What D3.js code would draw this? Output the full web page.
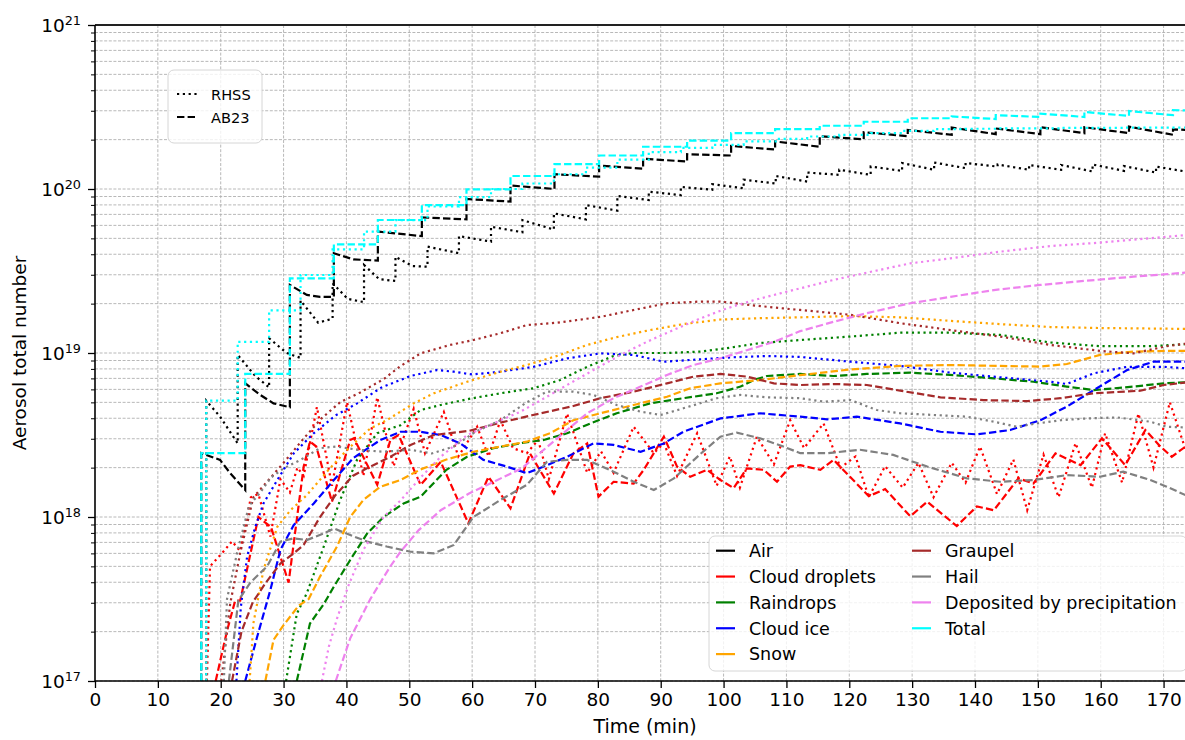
<!DOCTYPE html>
<html>
<head>
<meta charset="utf-8">
<script src="https://cdn.jsdelivr.net/npm/d3@7"></script>
<style>
  body { margin: 0; background: #fff; }
  svg text { font-family: "DejaVu Sans", sans-serif; fill: #000; }
</style>
</head>
<body>
<svg id="chart" width="1185" height="740"></svg>
<script>
// ---- data: [time (min), aerosol number] ----
var speciesNames = ['Air', 'Cloud droplets', 'Raindrops', 'Cloud ice', 'Snow',
                    'Graupel', 'Hail', 'Deposited by precipitation', 'Total'];
var speciesColors = ['#000000', '#ff0000', '#008000', '#0000ff', '#ffa500',
                     '#a52a2a', '#808080', '#ee82ee', '#00ffff'];
var schemeNames = ['RHSS', 'AB23'];

var airRHSS = [[17.7,1e17],[17.7,5.12e18],[19.9,4.09e18],[22.7,2.81e18],[22.7,9.73e18],[25.5,7.24e18],[27.7,6.17e18],
  [27.7,1.23e19],[30.5,1.0e19],[32.7,9.33e18],[32.7,2.09e19],[35.5,1.53e19],[37.8,1.62e19],[37.8,2.66e19],[40.2,2.14e19],
  [42.8,2.04e19],[42.8,3.44e19],[45.2,2.82e19],[47.8,2.75e19],[47.8,3.86e19],[50.5,3.39e19],[52.9,3.36e19],[52.9,4.45e19],
  [57.9,4.06e19],[57.9,5.16e19],[63.0,4.78e19],[63.0,5.89e19],[68.0,5.45e19],[68.0,6.46e19],[73.0,5.66e19],[73.0,7.10e19],
  [78.1,6.53e19],[78.1,7.98e19],[83.1,7.38e19],[83.1,9.08e19],[88.1,8.57e19],[88.1,9.64e19],[93.2,9.18e19],[93.2,1.03e20],
  [98.2,9.89e19],[98.2,1.07e20],[103.2,1.01e20],[103.2,1.14e20],[108.3,1.08e20],[108.3,1.20e20],[113.3,1.11e20],[113.3,1.26e20],
  [118.4,1.22e20],[118.4,1.31e20],[123.4,1.22e20],[123.4,1.37e20],[128.4,1.29e20],[128.4,1.44e20],[133.5,1.31e20],[133.5,1.45e20],
  [138.5,1.34e20],[138.5,1.44e20],[143.6,1.37e20],[143.6,1.41e20],[148.6,1.31e20],[148.6,1.40e20],[153.7,1.31e20],[153.7,1.40e20],
  [158.7,1.28e20],[158.7,1.41e20],[163.7,1.29e20],[163.7,1.38e20],[168.8,1.26e20],[168.8,1.37e20],[175,1.25e20]];
var airAB23 = [[16.9,1e17],[16.9,2.45e18],[19.9,2.23e18],[21.5,1.85e18],[23.9,1.46e18],[23.9,6.53e18],[26.3,5.55e18],[28.4,4.93e18],
  [31.0,4.67e18],[31.0,2.60e19],[33.7,2.26e19],[35.8,2.20e19],[38.0,2.20e19],[38.0,4.06e19],[41.1,3.72e19],[45.0,3.66e19],
  [45.0,5.50e19],[52.0,5.16e19],[52.0,6.71e19],[59.1,6.53e19],[59.1,8.69e19],[66.1,8.38e19],[66.1,1.05e20],[73.1,1.00e20],
  [73.1,1.23e20],[80.2,1.19e20],[80.2,1.39e20],[87.2,1.33e20],[87.2,1.53e20],[94.2,1.47e20],[94.2,1.63e20],[101.2,1.60e20],
  [101.2,1.83e20],[108.2,1.74e20],[108.2,1.95e20],[115.3,1.81e20],[115.3,2.10e20],[122.3,2.01e20],[122.3,2.22e20],[129.3,2.10e20],
  [129.3,2.29e20],[136.3,2.14e20],[136.3,2.37e20],[143.3,2.16e20],[143.3,2.34e20],[150.4,2.16e20],[150.4,2.38e20],[157.4,2.19e20],
  [157.4,2.38e20],[164.5,2.19e20],[164.5,2.40e20],[171.5,2.14e20],[171.5,2.31e20],[175,2.28e20]];

var dropsRHSS = [[17.8,1e17],[18.3,5.0e17],[20.5,6.2e17],[21.8,7.1e17],[23.1,6.2e17],[24.8,1.32e18],[26.0,1.38e18],[27.9,7.6e17],
  [29.5,1.70e18],[31.0,1.41e18],[32.2,2.0e18],[33.2,1.78e18],[35.3,4.68e18],[37.7,1.55e18],[40.1,5.01e18],[42.7,1.78e18],
  [44.9,5.37e18],[47.5,2.04e18],[50.7,4.57e18],[52.5,2.45e18],[55.5,4.37e18],[57.8,2.34e18],[60.8,3.55e18],[62.6,2.34e18],
  [64.5,3.89e18],[66.5,2.63e18],[68.7,2.45e18],[70.5,2.95e18],[72.2,1.70e18],[75.1,4.27e18],[78.3,1.86e18],[80.5,2.51e18],
  [82.5,1.86e18],[85.7,3.55e18],[88.9,2.45e18],[90.5,2.82e18],[92.6,1.78e18],[95.8,3.24e18],[98.9,1.55e18],[101.0,2.34e18],
  [102.6,1.51e18],[105.3,3.09e18],[108.0,2.09e18],[110.6,3.89e18],[112.8,2.63e18],[115.9,3.72e18],[118.6,2.0e18],[121.0,2.34e18],
  [123.1,1.32e18],[125.7,2.04e18],[128.5,1.51e18],[131.0,2.14e18],[133.4,1.32e18],[136.3,2.14e18],[138.5,1.62e18],[140.8,2.69e18],
  [143.5,1.38e18],[146.1,2.24e18],[148.3,1.10e18],[150.9,2.40e18],[153.3,1.32e18],[156.0,2.82e18],[158.6,1.51e18],[160.7,3.24e18],
  [163.4,1.62e18],[166.0,4.27e18],[168.4,2.0e18],[171.0,5.01e18],[173.5,2.57e18],[175,2.0e18]];
var dropsAB23 = [[19.2,1e17],[21.0,2.02e17],[22.3,3.09e17],[23.1,3.09e17],[26.0,1.0e18],[27.0,9.3e17],[28.0,8.7e17],[30.8,3.98e17],
  [33.2,2.03e18],[34.2,2.88e18],[35.2,2.69e18],[37.7,1.24e18],[40.6,2.95e18],[41.2,3.02e18],[44.9,1.57e18],[47.0,2.95e18],
  [48.3,3.16e18],[51.8,1.57e18],[55.0,2.17e18],[59.4,9.16e17],[62.6,1.76e18],[66.1,1.13e18],[69.2,2.44e18],[73.0,1.39e18],
  [76.1,2.44e18],[78.3,2.81e18],[80.1,1.33e18],[82.5,1.64e18],[85.7,1.60e18],[87.3,1.94e18],[90.5,3.09e18],[92.6,2.03e18],
  [94.7,1.76e18],[97.4,1.94e18],[99.5,1.68e18],[101.6,1.50e18],[103.7,1.98e18],[106.4,1.94e18],[108.5,1.64e18],[110.6,2.03e18],
  [112.2,2.07e18],[115.4,1.94e18],[117.5,2.23e18],[123.1,1.34e18],[125.7,1.48e18],[129.7,1.01e18],[132.4,1.24e18],[137.1,8.81e17],
  [140.3,1.16e18],[143.0,1.10e18],[146.9,1.72e18],[149.3,1.60e18],[152.8,2.44e18],[156.8,2.07e18],[160.2,3.02e18],[163.9,2.07e18],
  [167.1,3.39e18],[169.5,2.69e18],[171.3,2.33e18],[173.5,2.69e18],[175,2.9e18]];

var rainRHSS = [[30.4,1e17],[32.1,2.57e17],[33.7,3.43e17],[36.4,6.61e17],[39.0,1.27e18],[41.7,2.24e18],[44.9,3.24e18],[48.6,3.63e18],
  [51.8,4.49e18],[55.0,4.82e18],[59.5,5.25e18],[64.5,5.68e18],[69.8,6.10e18],[74.0,6.84e18],[78.3,8.24e18],[82.5,9.59e18],
  [85.7,1.0e19],[91.0,1.0e19],[96.4,1.02e19],[100.5,1.07e19],[105.8,1.15e19],[112.2,1.20e19],[120.2,1.26e19],[128.1,1.33e19],
  [136.1,1.33e19],[144.0,1.29e19],[151.9,1.16e19],[159.9,1.10e19],[167.9,1.10e19],[175,1.14e19]];
var rainAB23 = [[32.1,1e17],[34.2,2.24e17],[36.4,2.95e17],[38.0,3.76e17],[40.6,5.47e17],[43.3,7.94e17],[45.9,1.0e18],[49.1,1.21e18],
  [51.8,1.33e18],[55.9,1.94e18],[59.2,2.33e18],[63.4,2.63e18],[68.2,2.84e18],[71.4,2.95e18],[75.1,3.24e18],[78.8,3.72e18],
  [83.0,4.29e18],[88.3,4.93e18],[93.6,5.30e18],[98.9,5.68e18],[102.7,6.24e18],[104.8,6.84e18],[106.9,7.24e18],[112.2,7.45e18],
  [117.5,7.24e18],[122.8,7.45e18],[129.7,7.59e18],[136.0,7.35e18],[143.0,7.01e18],[149.3,6.68e18],[154.6,6.24e18],[158.9,5.94e18],
  [165.2,6.24e18],[170.0,6.53e18],[175,6.68e18]];

var iceRHSS = [[22.5,1e17],[23.2,2.82e17],[24.2,5.73e17],[25.5,8.71e17],[26.8,1.21e18],[29.0,1.68e18],[31.6,2.44e18],[34.8,3.24e18],
  [38.3,4.17e18],[41.7,4.93e18],[45.6,6.17e18],[50.2,7.24e18],[54.4,7.87e18],[57.1,7.69e18],[60.0,7.40e18],[64.5,7.69e18],
  [69.8,8.24e18],[75.1,9.27e18],[80.4,9.95e18],[85.7,9.73e18],[90.5,8.85e18],[96.4,9.16e18],[101.6,9.42e18],[106.9,9.59e18],
  [112.2,9.46e18],[120.2,8.85e18],[128.1,8.34e18],[136.1,7.59e18],[144.0,7.11e18],[152.0,6.68e18],[154.6,6.47e18],[158.9,7.52e18],
  [164.2,8.24e18],[170.0,8.24e18],[175,8.0e18]];
var iceAB23 = [[23.9,1e17],[25.8,1.86e17],[27.9,3.59e17],[29.5,6.31e17],[31.6,8.91e17],[34.8,1.21e18],[38.0,1.68e18],[41.1,2.29e18],
  [45.4,2.95e18],[48.6,3.31e18],[51.8,3.31e18],[55.0,3.16e18],[58.1,2.81e18],[61.8,2.23e18],[65.5,2.03e18],[68.7,1.85e18],
  [71.4,2.03e18],[75.1,2.33e18],[79.3,2.81e18],[82.5,2.75e18],[86.8,2.50e18],[90.5,2.81e18],[93.6,3.31e18],[99.5,3.99e18],
  [105.8,4.29e18],[112.2,4.09e18],[116.5,3.94e18],[121.2,4.09e18],[128.1,3.72e18],[134.5,3.31e18],[140.3,3.19e18],[145.6,3.39e18],
  [150.4,3.89e18],[154.6,4.71e18],[158.9,5.94e18],[164.2,7.87e18],[168.4,8.85e18],[175,8.85e18]];

var snowRHSS = [[24.6,1e17],[25.2,2.25e17],[26.8,4.75e17],[29.0,8.71e17],[31.1,1.10e18],[33.7,1.36e18],[36.9,1.89e18],[40.1,2.57e18],
  [43.8,3.47e18],[46.4,3.89e18],[48.6,4.39e18],[50.7,4.93e18],[53.9,5.68e18],[59.2,6.68e18],[64.5,7.69e18],[68.7,8.45e18],
  [74.0,9.73e18],[78.3,1.12e19],[83.0,1.25e19],[88.3,1.38e19],[93.6,1.50e19],[99.5,1.60e19],[105.8,1.63e19],[112.2,1.65e19],
  [120.2,1.68e19],[128.1,1.65e19],[136.1,1.57e19],[144.0,1.50e19],[152.0,1.44e19],[159.9,1.42e19],[167.9,1.41e19],[175,1.40e19]];
var snowAB23 = [[27.1,1e17],[28.4,1.78e17],[30.0,2.19e17],[32.4,2.88e17],[34.0,3.16e17],[35.8,4.33e17],[38.5,6.61e17],[40.6,1.0e18],
  [42.7,1.27e18],[45.4,1.53e18],[48.6,1.68e18],[51.8,1.95e18],[55.9,2.24e18],[60.2,2.50e18],[64.5,2.69e18],[68.7,2.88e18],
  [72.4,3.24e18],[76.1,3.89e18],[80.4,4.29e18],[85.7,4.82e18],[91.0,5.41e18],[94.7,6.10e18],[99.5,6.53e18],[105.8,6.84e18],
  [112.2,7.33e18],[120.2,7.94e18],[128.1,8.34e18],[136.1,8.45e18],[144.0,8.34e18],[150.4,8.26e18],[154.6,8.57e18],[159.9,9.73e18],
  [165.2,1.02e19],[170.5,1.03e19],[175,1.03e19]];

var graupelRHSS = [[20.1,1e17],[21.0,2.0e17],[21.5,2.95e17],[23.1,6.03e17],[25.2,1.32e18],[27.5,1.66e18],[30.0,2.14e18],[33.0,2.95e18],
  [36.0,3.98e18],[39.0,5.01e18],[42.2,5.75e18],[45.9,6.92e18],[48.6,8.32e18],[51.8,9.95e18],[56.5,1.12e19],[60.2,1.20e19],
  [64.5,1.32e19],[68.7,1.48e19],[73.5,1.53e19],[80.4,1.66e19],[85.7,1.83e19],[91.0,2.01e19],[96.4,2.06e19],[99.5,2.06e19],
  [104.2,1.96e19],[109.5,1.87e19],[112.2,1.83e19],[120.2,1.71e19],[128.1,1.52e19],[136.1,1.38e19],[144.0,1.26e19],[152.0,1.12e19],
  [159.9,1.03e19],[165.2,9.95e18],[170.5,1.10e19],[175,1.16e19]];
var graupelAB23 = [[21.8,1e17],[23.3,2.0e17],[25.1,3.02e17],[27.1,3.94e17],[29.5,5.21e17],[31.6,6.0e17],[33.2,6.76e17],[35.8,1.0e18],
  [38.2,1.35e18],[41.0,1.78e18],[43.8,2.03e18],[47.0,2.33e18],[50.2,2.75e18],[53.9,3.16e18],[59.5,3.35e18],[64.5,3.76e18],
  [69.5,4.17e18],[76.1,4.75e18],[80.4,5.30e18],[85.7,5.81e18],[91.0,6.53e18],[95.2,7.18e18],[99.5,7.45e18],[103.7,7.18e18],
  [108.0,6.53e18],[112.2,6.38e18],[117.5,6.47e18],[122.8,6.38e18],[128.1,5.89e18],[134.5,5.37e18],[141.4,5.16e18],[148.3,5.09e18],
  [153.6,5.30e18],[158.9,5.68e18],[166.3,5.89e18],[170.0,6.38e18],[175,6.7e18]];

var hailRHSS = [[20.5,1e17],[21.0,3.16e17],[22.6,6.03e17],[24.5,1.17e18],[26.3,1.41e18],[28.0,1.74e18],[30.0,1.98e18],[32.7,2.23e18],
  [35.8,2.63e18],[38.5,2.69e18],[41.7,2.57e18],[45.9,2.50e18],[50.2,2.57e18],[53.6,2.44e18],[57.1,2.69e18],[60.5,3.31e18],
  [64.5,3.89e18],[68.7,5.01e18],[71.9,5.81e18],[76.1,5.81e18],[79.3,5.55e18],[83.0,4.82e18],[86.8,4.39e18],[90.0,4.19e18],
  [93.6,4.60e18],[98.9,5.30e18],[102.7,5.55e18],[106.9,5.37e18],[112.2,5.30e18],[115.9,5.05e18],[120.2,5.16e18],[124.4,4.49e18],
  [128.1,4.29e18],[133.4,4.19e18],[138.7,4.09e18],[143.0,3.81e18],[146.7,3.55e18],[149.3,3.69e18],[153.6,3.89e18],[157.3,3.98e18],
  [162.6,4.05e18],[167.9,3.81e18],[170.5,3.55e18],[175,3.5e18]];
var hailAB23 = [[21.3,1e17],[22.8,3.09e17],[24.7,3.98e17],[27.4,5.01e17],[29.5,7.08e17],[31.6,7.41e17],[33.7,7.24e17],[36.4,7.94e17],
  [38.0,8.51e17],[40.6,7.76e17],[43.3,7.08e17],[46.4,6.61e17],[50.2,6.14e17],[53.9,6.0e17],[57.1,6.76e17],[60.2,1.0e18],
  [62.9,1.16e18],[64.5,1.27e18],[68.7,1.57e18],[71.9,2.17e18],[75.1,2.23e18],[78.3,2.23e18],[82.5,1.89e18],[85.7,1.64e18],
  [88.9,1.46e18],[92.1,1.72e18],[96.4,2.44e18],[99.5,3.09e18],[102.1,3.27e18],[105.8,3.02e18],[109.5,2.69e18],[112.2,2.45e18],
  [116.5,2.45e18],[121.7,2.57e18],[127.0,2.39e18],[132.4,2.03e18],[138.7,1.72e18],[144.0,1.64e18],[149.3,1.68e18],[154.6,1.80e18],
  [159.9,1.76e18],[163.6,1.89e18],[167.9,1.68e18],[170.5,1.53e18],[173.5,1.36e18],[175,1.3e18]];

var depositRHSS = [[36.1,1e17],[37.2,1.62e17],[38.5,2.40e17],[40.3,3.80e17],[42.7,6.31e17],[45.9,1.0e18],[48.6,1.26e18],[51.8,1.74e18],
  [55.0,2.33e18],[59.2,3.16e18],[63.4,3.72e18],[67.7,4.39e18],[71.9,5.41e18],[75.1,6.38e18],[79.3,7.87e18],[83.6,9.73e18],
  [87.8,1.17e19],[92.0,1.38e19],[96.4,1.63e19],[100.5,1.87e19],[104.8,2.10e19],[109.0,2.31e19],[112.2,2.48e19],[117.5,2.79e19],
  [122.8,3.09e19],[129.7,3.52e19],[136.1,3.78e19],[144.0,4.15e19],[152.0,4.49e19],[159.9,4.71e19],[167.9,5.01e19],[175,5.3e19]];
var depositAB23 = [[38.3,1e17],[40.6,1.82e17],[43.8,3.16e17],[47.0,5.01e17],[48.6,6.14e17],[51.5,8.32e17],[55.0,1.10e18],[59.5,1.39e18],
  [63.7,1.66e18],[67.9,1.98e18],[71.4,2.57e18],[75.1,3.39e18],[78.3,4.29e18],[82.5,5.30e18],[86.8,6.24e18],[91.0,7.35e18],
  [95.2,8.45e18],[99.5,9.27e18],[103.7,1.04e19],[108.0,1.17e19],[112.2,1.36e19],[117.5,1.55e19],[122.8,1.75e19],[129.7,2.01e19],
  [136.1,2.20e19],[143.0,2.42e19],[150.4,2.60e19],[157.3,2.75e19],[165.2,2.92e19],[175,3.12e19]];

// total with RHSS stays flat between injections -> drawn as steps
var totalRHSS = [[17.7,1e17],[17.7,5.12e18],[22.7,1.17e19],[27.7,1.82e19],[32.7,2.99e19],[37.8,4.29e19],[42.8,5.50e19],[47.8,6.46e19],
  [52.9,7.82e19],[57.9,8.91e19],[63.0,1.00e20],[68.0,1.08e20],[73.0,1.23e20],[78.1,1.35e20],[83.1,1.51e20],[88.1,1.68e20],
  [93.2,1.78e20],[98.2,1.86e20],[103.2,1.95e20],[108.3,2.02e20],[113.3,2.09e20],[118.4,2.14e20],[123.4,2.19e20],[128.4,2.26e20],
  [133.5,2.32e20],[138.5,2.33e20],[143.6,2.34e20],[148.6,2.34e20],[153.7,2.36e20],[158.7,2.36e20],[163.7,2.37e20],[168.8,2.37e20],
  [175,2.37e20]];
var totalAB23 = [[16.9,1e17],[16.9,2.45e18],[23.9,2.45e18],[23.9,7.45e18],[31.0,7.45e18],[31.0,2.85e19],[38.0,2.85e19],[38.0,4.60e19],
  [45.0,4.60e19],[45.0,6.47e19],[52.0,6.47e19],[52.0,7.98e19],[59.1,7.98e19],[59.1,9.95e19],[66.1,9.95e19],[66.1,1.20e20],
  [73.1,1.20e20],[73.1,1.42e20],[80.2,1.42e20],[80.2,1.60e20],[87.2,1.60e20],[87.2,1.81e20],[94.2,1.81e20],[94.2,1.97e20],
  [101.2,1.97e20],[101.2,2.19e20],[108.2,2.19e20],[108.2,2.32e20],[115.3,2.32e20],[115.3,2.43e20],[122.3,2.43e20],[122.3,2.57e20],
  [129.3,2.57e20],[129.3,2.70e20],[136.3,2.70e20],[136.3,2.77e20],[143.3,2.67e20],[143.3,2.82e20],[150.4,2.75e20],[150.4,2.88e20],
  [157.4,2.75e20],[157.4,2.95e20],[164.5,2.79e20],[164.5,2.99e20],[171.5,2.82e20],[171.5,3.03e20],[175,3.0e20]];

var rhssSeries = [airRHSS, dropsRHSS, rainRHSS, iceRHSS, snowRHSS, graupelRHSS, hailRHSS, depositRHSS, totalRHSS];
var ab23Series = [airAB23, dropsAB23, rainAB23, iceAB23, snowAB23, graupelAB23, hailAB23, depositAB23, totalAB23];

var xTicks = d3.range(0, 171, 10);

// ---- layout ----
var pLeft = 95, pTop = 25, pRight = 1195, pBottom = 681;
var dotted = '2.2,3.6', dashed = '7.4,3.2';

var svg = d3.select('#chart');
var x = d3.scaleLinear().domain([0, 175]).range([pLeft, pRight]);
var y = d3.scaleLog().domain([1e17, 1e21]).range([pBottom, pTop]);

var yAll = y.ticks();
var isDecade = function(v) { return Math.abs(Math.log10(v) - Math.round(Math.log10(v))) < 1e-9; };
var yMajor = yAll.filter(isDecade);
var yMinor = yAll.filter(function(v) { return !isDecade(v); });

// grid
var grid = svg.append('g').attr('stroke', '#b0b0b0').attr('stroke-width', 0.9).attr('stroke-dasharray', '3,1.6');
grid.selectAll('.hg').data(yAll).enter().append('line')
  .attr('x1', pLeft).attr('x2', pRight)
  .attr('y1', function(d) { return y(d); }).attr('y2', function(d) { return y(d); });
grid.selectAll('.vg').data(xTicks.slice(1)).enter().append('line')
  .attr('y1', pTop).attr('y2', pBottom)
  .attr('x1', function(d) { return x(d); }).attr('x2', function(d) { return x(d); });

// lines
svg.append('clipPath').attr('id', 'plotclip').append('rect')
  .attr('x', pLeft).attr('y', pTop).attr('width', pRight - pLeft).attr('height', pBottom - pTop);
var plot = svg.append('g').attr('clip-path', 'url(#plotclip)');
var line = d3.line().x(function(d) { return x(d[0]); }).y(function(d) { return y(d[1]); });
var stepLine = d3.line().curve(d3.curveStepAfter).x(function(d) { return x(d[0]); }).y(function(d) { return y(d[1]); });

speciesNames.forEach(function(name, i) {
  plot.append('path').datum(rhssSeries[i])
    .attr('d', rhssSeries[i] === totalRHSS ? stepLine : line)
    .attr('fill', 'none').attr('stroke', speciesColors[i]).attr('stroke-width', 2.2)
    .attr('stroke-dasharray', dotted);
  plot.append('path').datum(ab23Series[i])
    .attr('d', line)
    .attr('fill', 'none').attr('stroke', speciesColors[i]).attr('stroke-width', 2.2)
    .attr('stroke-dasharray', dashed);
});

// spines
svg.append('line').attr('x1', pLeft).attr('x2', pRight).attr('y1', pTop).attr('y2', pTop)
  .attr('stroke', '#222').attr('stroke-width', 1.8);
svg.append('line').attr('x1', pLeft).attr('x2', pLeft).attr('y1', pTop).attr('y2', pBottom)
  .attr('stroke', '#000').attr('stroke-width', 1.6);
svg.append('line').attr('x1', pLeft).attr('x2', pRight).attr('y1', pBottom).attr('y2', pBottom)
  .attr('stroke', '#000').attr('stroke-width', 1.6);

// x axis
var xAxis = svg.append('g').attr('transform', 'translate(0,' + pBottom + ')')
  .call(d3.axisBottom(x).tickValues(xTicks).tickSize(7).tickSizeOuter(0).tickPadding(5).tickFormat(d3.format('d')));
xAxis.select('.domain').remove();
xAxis.selectAll('line').attr('stroke', '#000').attr('stroke-width', 1.3);
xAxis.selectAll('text').attr('font-family', 'DejaVu Sans').attr('font-size', 18.5).attr('fill', '#000');

// y axis: major + minor ticks
var yAxisMinor = svg.append('g').attr('transform', 'translate(' + pLeft + ',0)')
  .call(d3.axisLeft(y).tickValues(yMinor).tickSize(4).tickSizeOuter(0).tickFormat(''));
yAxisMinor.select('.domain').remove();
yAxisMinor.selectAll('line').attr('stroke', '#000').attr('stroke-width', 1);
var yAxisMajor = svg.append('g').attr('transform', 'translate(' + pLeft + ',0)')
  .call(d3.axisLeft(y).tickValues(yMajor).tickSize(7).tickSizeOuter(0).tickFormat(''));
yAxisMajor.select('.domain').remove();
yAxisMajor.selectAll('line').attr('stroke', '#000').attr('stroke-width', 1.3);

var yLab = svg.append('g').selectAll('text').data(yMajor).enter().append('text')
  .attr('x', 81).attr('y', function(d) { return y(d) + 7; })
  .attr('text-anchor', 'end').attr('font-size', 18.5);
yLab.append('tspan').text('10');
yLab.append('tspan').attr('font-size', 12.8).attr('dy', -7.5)
  .text(function(d) { return Math.round(Math.log10(d)); });

// axis titles
svg.append('text').attr('x', 645).attr('y', 733).attr('text-anchor', 'middle')
  .attr('font-size', 19).text('Time (min)');
svg.append('text').attr('transform', 'translate(26,' + ((pTop + pBottom) / 2) + ') rotate(-90)')
  .attr('text-anchor', 'middle').attr('font-size', 18.5).text('Aerosol total number');

// legend: line style per scheme
var lg1 = svg.append('g');
lg1.append('rect').attr('x', 168).attr('y', 70).attr('width', 94).attr('height', 73).attr('rx', 6)
  .attr('fill', '#fff').attr('fill-opacity', 0.8).attr('stroke', '#d6d6d6');
schemeNames.forEach(function(s, i) {
  var cy = 94 + i * 23;
  lg1.append('line').attr('x1', 177).attr('x2', 197).attr('y1', cy).attr('y2', cy)
    .attr('stroke', '#000').attr('stroke-width', 2).attr('stroke-dasharray', i === 0 ? dotted : dashed);
  lg1.append('text').attr('x', 211).attr('y', cy + 5.5).attr('font-size', 14.6).text(s);
});

// legend: species colours
var lg2 = svg.append('g');
lg2.append('rect').attr('x', 709).attr('y', 536).attr('width', 478).attr('height', 135).attr('rx', 6)
  .attr('fill', '#fff').attr('fill-opacity', 0.8).attr('stroke', '#d6d6d6');
speciesNames.forEach(function(name, i) {
  var col = i < 5 ? 0 : 1, row = i < 5 ? i : i - 5;
  var lx = col === 0 ? 716 : 912, cy = 550.7 + row * 25.85;
  lg2.append('line').attr('x1', lx).attr('x2', lx + 19).attr('y1', cy).attr('y2', cy)
    .attr('stroke', speciesColors[i]).attr('stroke-width', 2.2);
  lg2.append('text').attr('x', lx + 33).attr('y', cy + 6.3).attr('font-size', 17.5).text(name);
});
</script>
</body>
</html>
